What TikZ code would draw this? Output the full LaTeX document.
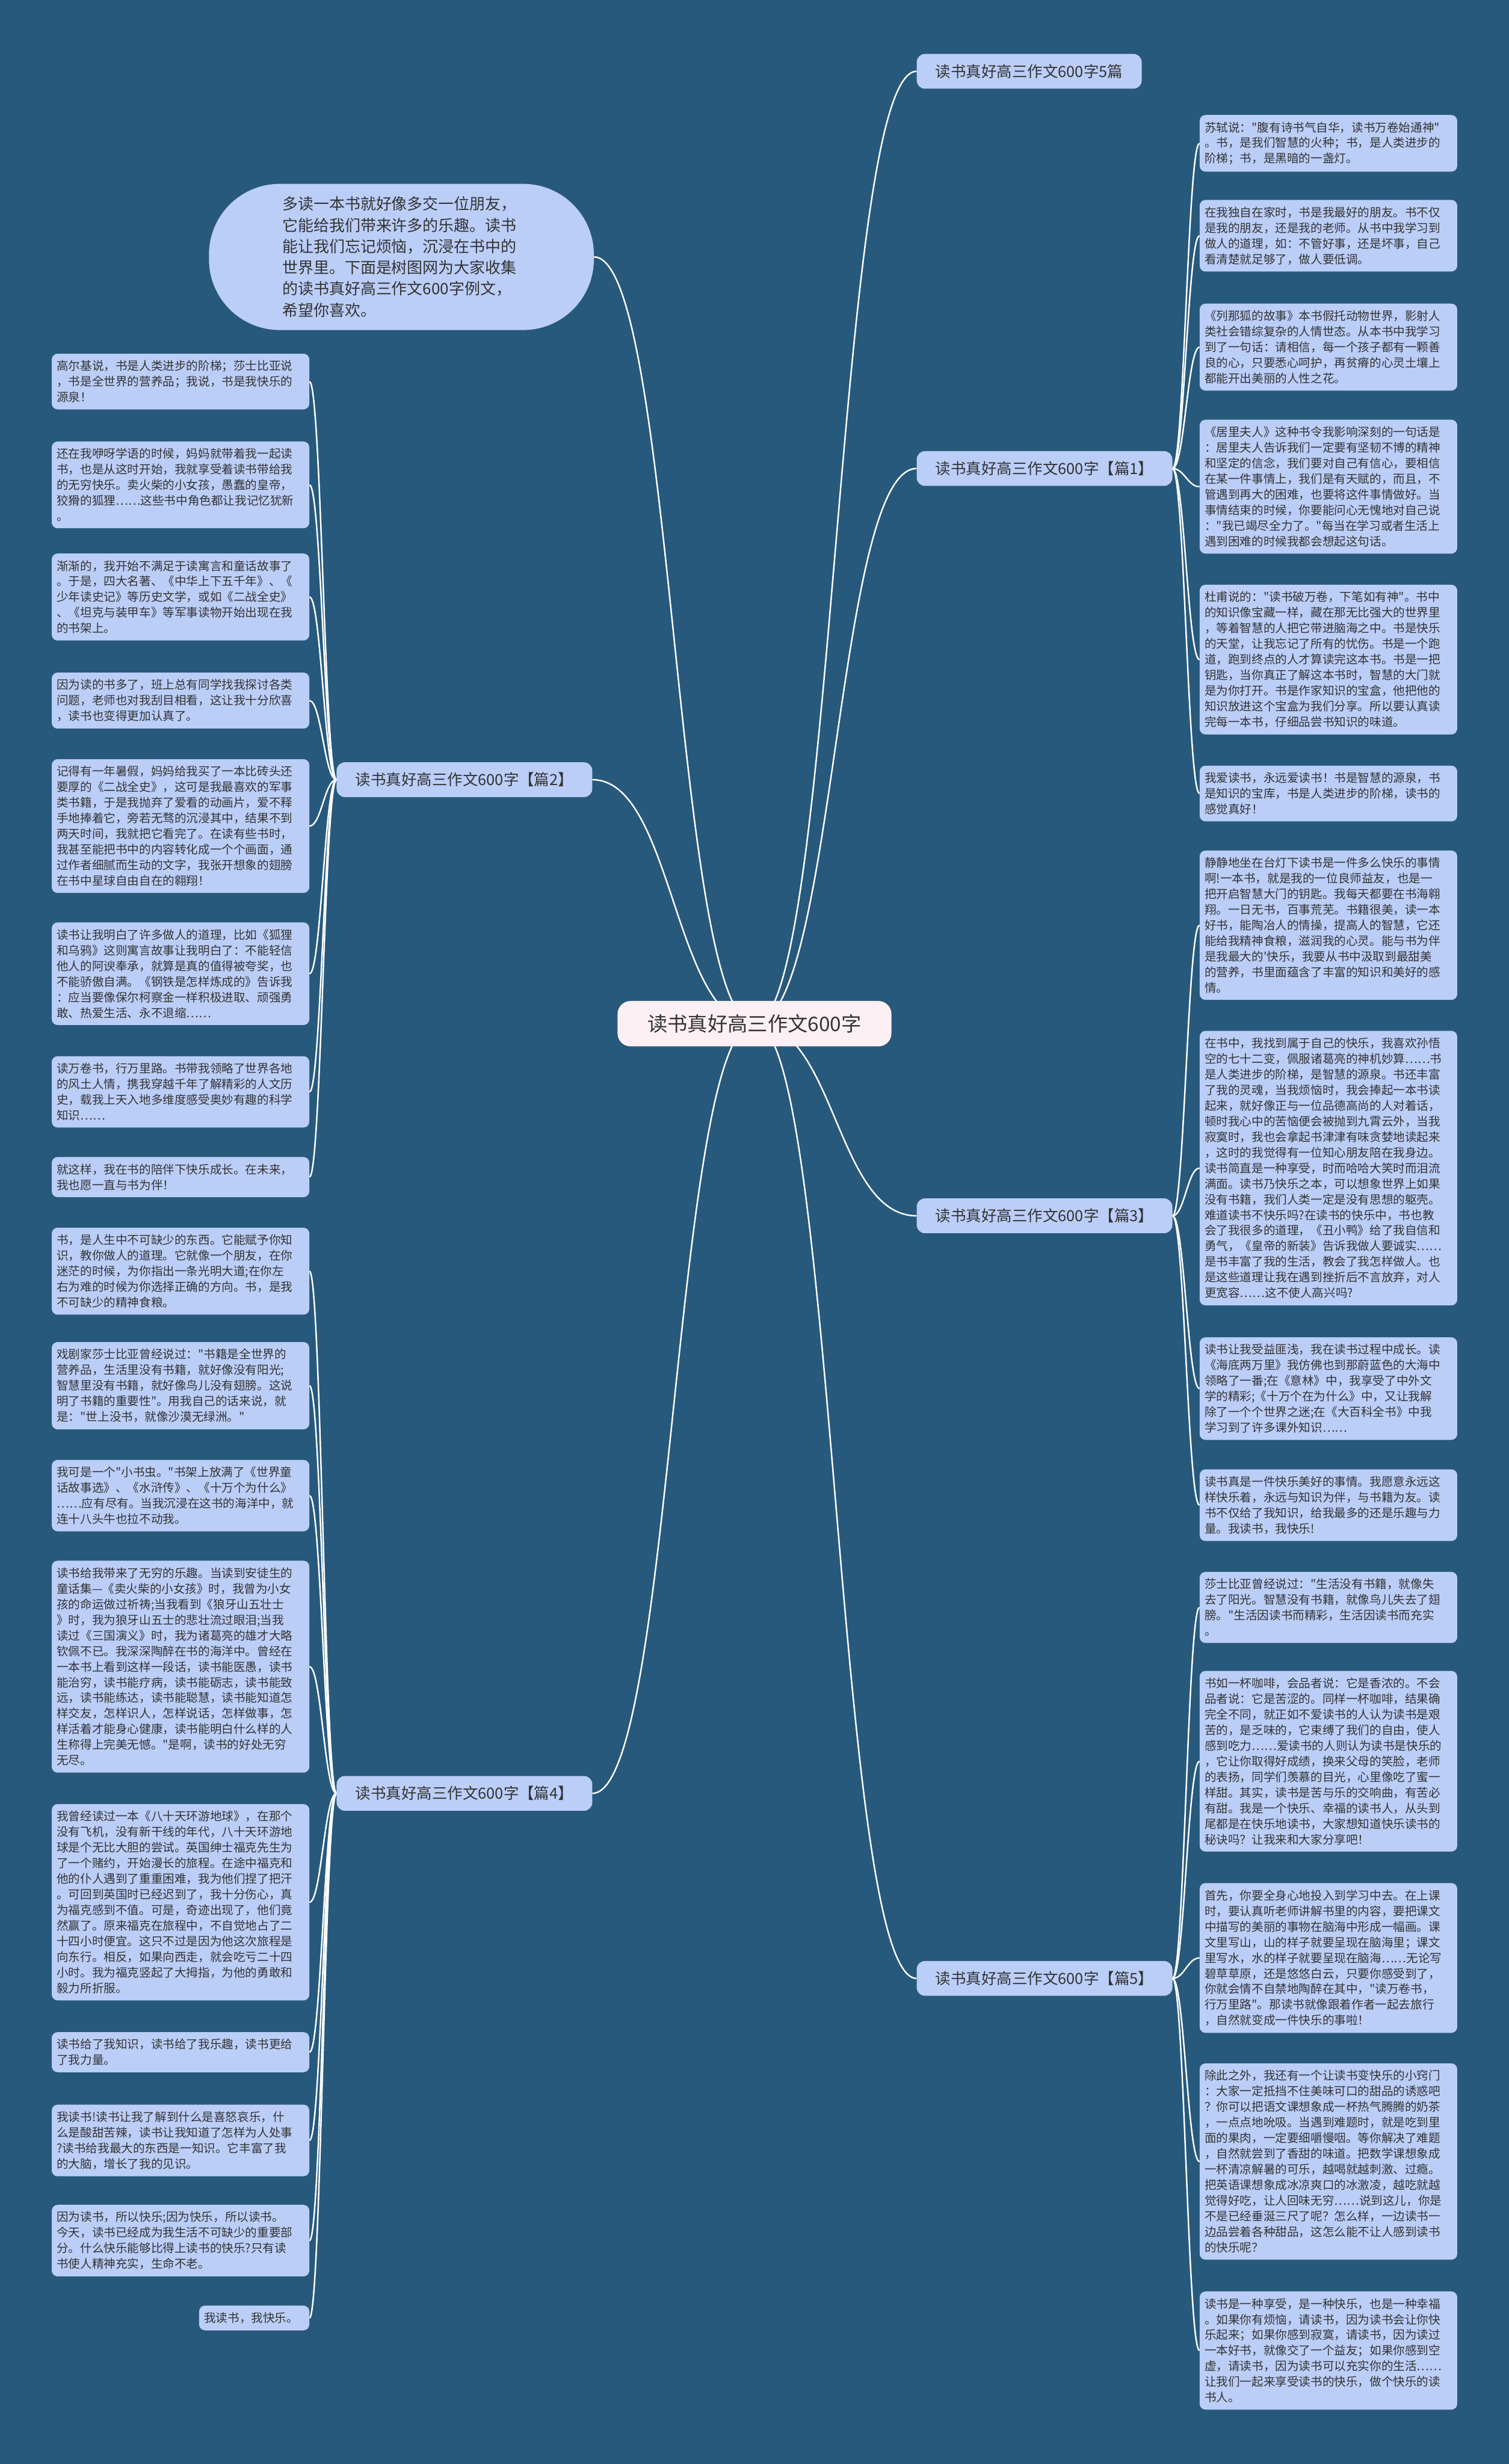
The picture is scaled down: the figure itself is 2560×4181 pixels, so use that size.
\documentclass[tikz,border=0pt]{standalone}
\usepackage{fontspec}
\usepackage{xcolor}
\usepackage{tikz}
\usetikzlibrary{backgrounds}
\newfontfamily\cjk{Noto Sans CJK SC}
\definecolor{bg}{HTML}{27597C}
\definecolor{leaffill}{HTML}{BBCEF8}
\definecolor{rootfill}{HTML}{FDF0F4}
\definecolor{ink}{HTML}{333333}
\tikzset{
  leaf/.style={fill=leaffill, rounded corners=10pt, text=ink,
    font=\cjk\fontsize{20}{26.5}\selectfont, text width=420pt, align=left,
    inner xsep=8.5pt, inner ysep=11.5pt},
  branch/.style={fill=leaffill, rounded corners=14pt, text=ink,
    font=\cjk\fontsize{26}{30}\selectfont, inner xsep=32pt, minimum height=59pt},
  root/.style={fill=rootfill, rounded corners=22pt, text=ink,
    font=\cjk\fontsize{34}{40}\selectfont, inner xsep=51pt, minimum height=77pt},
  intro/.style={fill=leaffill, rounded corners=120pt, text=ink,
    font=\cjk\fontsize{26.5}{36}\selectfont, text width=404pt, align=left,
    minimum width=653pt, minimum height=248pt},
  link/.style={draw=white, line width=2.5pt},
}
\begin{document}
\begin{tikzpicture}[x=1pt,y=-1pt]
\begin{scope}[on background layer]
\fill[bg] (0,0) rectangle (2560,4181);
\end{scope}
\useasboundingbox (0,0) rectangle (2560,4181);

% centre, intro and the branch nodes
\node[root] (root) at (1280,1737) {读书真好高三作文600字};
\node[intro] (intro) at (681,436) {多读一本书就好像多交一位朋友，\\它能给我们带来许多的乐趣。读书\\能让我们忘记烦恼，沉浸在书中的\\世界里。下面是树图网为大家收集\\的读书真好高三作文600字例文，\\希望你喜欢。};
\node[branch, anchor=west] (all5) at (1555,121) {读书真好高三作文600字5篇};
\node[branch, anchor=west] (p1) at (1555,795) {读书真好高三作文600字【篇1】};
\node[branch, anchor=east] (p2) at (1005,1323) {读书真好高三作文600字【篇2】};
\node[branch, anchor=west] (p3) at (1555,2063) {读书真好高三作文600字【篇3】};
\node[branch, anchor=east] (p4) at (1005,3043) {读书真好高三作文600字【篇4】};
\node[branch, anchor=west] (p5) at (1555,3357) {读书真好高三作文600字【篇5】};

% 篇1
\node[leaf, anchor=north west] (a1) at (2035,195) {苏轼说："腹有诗书气自华，读书万卷始通神"\\。书，是我们智慧的火种；书，是人类进步的\\阶梯；书，是黑暗的一盏灯。};
\node[leaf, anchor=north west] (a2) at (2035,339) {在我独自在家时，书是我最好的朋友。书不仅\\是我的朋友，还是我的老师。从书中我学习到\\做人的道理，如：不管好事，还是坏事，自己\\看清楚就足够了，做人要低调。};
\node[leaf, anchor=north west] (a3) at (2035,515) {《列那狐的故事》本书假托动物世界，影射人\\类社会错综复杂的人情世态。从本书中我学习\\到了一句话：请相信，每一个孩子都有一颗善\\良的心，只要悉心呵护，再贫瘠的心灵土壤上\\都能开出美丽的人性之花。};
\node[leaf, anchor=north west] (a4) at (2035,712) {《居里夫人》这种书令我影响深刻的一句话是\\：居里夫人告诉我们一定要有坚韧不博的精神\\和坚定的信念，我们要对自己有信心，要相信\\在某一件事情上，我们是有天赋的，而且，不\\管遇到再大的困难，也要将这件事情做好。当\\事情结束的时候，你要能问心无愧地对自己说\\："我已竭尽全力了。"每当在学习或者生活上\\遇到困难的时候我都会想起这句话。};
\node[leaf, anchor=north west] (a5) at (2035,992) {杜甫说的："读书破万卷，下笔如有神"。书中\\的知识像宝藏一样，藏在那无比强大的世界里\\，等着智慧的人把它带进脑海之中。书是快乐\\的天堂，让我忘记了所有的忧伤。书是一个跑\\道，跑到终点的人才算读完这本书。书是一把\\钥匙，当你真正了解这本书时，智慧的大门就\\是为你打开。书是作家知识的宝盒，他把他的\\知识放进这个宝盒为我们分享。所以要认真读\\完每一本书，仔细品尝书知识的味道。};
\node[leaf, anchor=north west] (a6) at (2035,1299) {我爱读书，永远爱读书！书是智慧的源泉，书\\是知识的宝库，书是人类进步的阶梯，读书的\\感觉真好！};

% 篇3
\node[leaf, anchor=north west] (c1) at (2035,1443) {静静地坐在台灯下读书是一件多么快乐的事情\\啊!一本书，就是我的一位良师益友，也是一\\把开启智慧大门的钥匙。我每天都要在书海翱\\翔。一日无书，百事荒芜。书籍很美，读一本\\好书，能陶冶人的情操，提高人的智慧，它还\\能给我精神食粮，滋润我的心灵。能与书为伴\\是我最大的'快乐，我要从书中汲取到最甜美\\的营养，书里面蕴含了丰富的知识和美好的感\\情。};
\node[leaf, anchor=north west] (c2) at (2035,1749) {在书中，我找到属于自己的快乐，我喜欢孙悟\\空的七十二变，佩服诸葛亮的神机妙算……书\\是人类进步的阶梯，是智慧的源泉。书还丰富\\了我的灵魂，当我烦恼时，我会捧起一本书读\\起来，就好像正与一位品德高尚的人对着话，\\顿时我心中的苦恼便会被抛到九霄云外，当我\\寂寞时，我也会拿起书津津有味贪婪地读起来\\，这时的我觉得有一位知心朋友陪在我身边。\\读书简直是一种享受，时而哈哈大笑时而泪流\\满面。读书乃快乐之本，可以想象世界上如果\\没有书籍，我们人类一定是没有思想的躯壳。\\难道读书不快乐吗?在读书的快乐中，书也教\\会了我很多的道理，《丑小鸭》给了我自信和\\勇气，《皇帝的新装》告诉我做人要诚实……\\是书丰富了我的生活，教会了我怎样做人。也\\是这些道理让我在遇到挫折后不言放弃，对人\\更宽容……这不使人高兴吗?};
\node[leaf, anchor=north west] (c3) at (2035,2269) {读书让我受益匪浅，我在读书过程中成长。读\\《海底两万里》我仿佛也到那蔚蓝色的大海中\\领略了一番;在《意林》中，我享受了中外文\\学的精彩;《十万个在为什么》中，又让我解\\除了一个个世界之迷;在《大百科全书》中我\\学习到了许多课外知识……};
\node[leaf, anchor=north west] (c4) at (2035,2493) {读书真是一件快乐美好的事情。我愿意永远这\\样快乐着，永远与知识为伴，与书籍为友。读\\书不仅给了我知识，给我最多的还是乐趣与力\\量。我读书，我快乐!};

% 篇5
\node[leaf, anchor=north west] (e1) at (2035,2667) {莎士比亚曾经说过："生活没有书籍，就像失\\去了阳光。智慧没有书籍，就像鸟儿失去了翅\\膀。"生活因读书而精彩，生活因读书而充实\\。};
\node[leaf, anchor=north west] (e2) at (2035,2835) {书如一杯咖啡，会品者说：它是香浓的。不会\\品者说：它是苦涩的。同样一杯咖啡，结果确\\完全不同，就正如不爱读书的人认为读书是艰\\苦的，是乏味的，它束缚了我们的自由，使人\\感到吃力……爱读书的人则认为读书是快乐的\\，它让你取得好成绩，换来父母的笑脸，老师\\的表扬，同学们羡慕的目光，心里像吃了蜜一\\样甜。其实，读书是苦与乐的交响曲，有苦必\\有甜。我是一个快乐、幸福的读书人，从头到\\尾都是在快乐地读书，大家想知道快乐读书的\\秘诀吗？让我来和大家分享吧！};
\node[leaf, anchor=north west] (e3) at (2035,3195) {首先，你要全身心地投入到学习中去。在上课\\时，要认真听老师讲解书里的内容，要把课文\\中描写的美丽的事物在脑海中形成一幅画。课\\文里写山，山的样子就要呈现在脑海里；课文\\里写水，水的样子就要呈现在脑海……无论写\\碧草草原，还是悠悠白云，只要你感受到了，\\你就会情不自禁地陶醉在其中，"读万卷书，\\行万里路"。那读书就像跟着作者一起去旅行\\，自然就变成一件快乐的事啦！};
\node[leaf, anchor=north west] (e4) at (2035,3501) {除此之外，我还有一个让读书变快乐的小窍门\\：大家一定抵挡不住美味可口的甜品的诱惑吧\\？你可以把语文课想象成一杯热气腾腾的奶茶\\，一点点地吮吸。当遇到难题时，就是吃到里\\面的果肉，一定要细嚼慢咽。等你解决了难题\\，自然就尝到了香甜的味道。把数学课想象成\\一杯清凉解暑的可乐，越喝就越刺激、过瘾。\\把英语课想象成冰凉爽口的冰激凌，越吃就越\\觉得好吃，让人回味无穷……说到这儿，你是\\不是已经垂涎三尺了呢？怎么样，一边读书一\\边品尝着各种甜品，这怎么能不让人感到读书\\的快乐呢？};
\node[leaf, anchor=north west] (e5) at (2035,3888) {读书是一种享受，是一种快乐，也是一种幸福\\。如果你有烦恼，请读书，因为读书会让你快\\乐起来；如果你感到寂寞，请读书，因为读过\\一本好书，就像交了一个益友；如果你感到空\\虚，请读书，因为读书可以充实你的生活……\\让我们一起来享受读书的快乐，做个快乐的读\\书人。};

% 篇2
\node[leaf, anchor=north east] (b1) at (525,600) {高尔基说，书是人类进步的阶梯；莎士比亚说\\，书是全世界的营养品；我说，书是我快乐的\\源泉！};
\node[leaf, anchor=north east] (b2) at (525,749) {还在我咿呀学语的时候，妈妈就带着我一起读\\书，也是从这时开始，我就享受着读书带给我\\的无穷快乐。卖火柴的小女孩，愚蠢的皇帝，\\狡猾的狐狸……这些书中角色都让我记忆犹新\\。};
\node[leaf, anchor=north east] (b3) at (525,939) {渐渐的，我开始不满足于读寓言和童话故事了\\。于是，四大名著、《中华上下五千年》、《\\少年读史记》等历史文学，或如《二战全史》\\、《坦克与装甲车》等军事读物开始出现在我\\的书架上。};
\node[leaf, anchor=north east] (b4) at (525,1141) {因为读的书多了，班上总有同学找我探讨各类\\问题，老师也对我刮目相看，这让我十分欣喜\\，读书也变得更加认真了。};
\node[leaf, anchor=north east] (b5) at (525,1288) {记得有一年暑假，妈妈给我买了一本比砖头还\\要厚的《二战全史》，这可是我最喜欢的军事\\类书籍，于是我抛弃了爱看的动画片，爱不释\\手地捧着它，旁若无骛的沉浸其中，结果不到\\两天时间，我就把它看完了。在读有些书时，\\我甚至能把书中的内容转化成一个个画面，通\\过作者细腻而生动的文字，我张开想象的翅膀\\在书中星球自由自在的翱翔！};
\node[leaf, anchor=north east] (b6) at (525,1565) {读书让我明白了许多做人的道理，比如《狐狸\\和乌鸦》这则寓言故事让我明白了：不能轻信\\他人的阿谀奉承，就算是真的值得被夸奖，也\\不能骄傲自满。《钢铁是怎样炼成的》告诉我\\：应当要像保尔柯察金一样积极进取、顽强勇\\敢、热爱生活、永不退缩……};
\node[leaf, anchor=north east] (b7) at (525,1792) {读万卷书，行万里路。书带我领略了世界各地\\的风土人情，携我穿越千年了解精彩的人文历\\史，载我上天入地多维度感受奥妙有趣的科学\\知识……};
\node[leaf, anchor=north east] (b8) at (525,1963) {就这样，我在书的陪伴下快乐成长。在未来，\\我也愿一直与书为伴！};

% 篇4
\node[leaf, anchor=north east] (d1) at (525,2083) {书，是人生中不可缺少的东西。它能赋予你知\\识，教你做人的道理。它就像一个朋友，在你\\迷茫的时候，为你指出一条光明大道;在你左\\右为难的时候为你选择正确的方向。书，是我\\不可缺少的精神食粮。};
\node[leaf, anchor=north east] (d2) at (525,2277) {戏剧家莎士比亚曾经说过："书籍是全世界的\\营养品，生活里没有书籍，就好像没有阳光;\\智慧里没有书籍，就好像鸟儿没有翅膀。这说\\明了书籍的重要性"。用我自己的话来说，就\\是："世上没书，就像沙漠无绿洲。"};
\node[leaf, anchor=north east] (d3) at (525,2477) {我可是一个"小书虫。"书架上放满了《世界童\\话故事选》、《水浒传》、《十万个为什么》\\……应有尽有。当我沉浸在这书的海洋中，就\\连十八头牛也拉不动我。};
\node[leaf, anchor=north east] (d4) at (525,2648) {读书给我带来了无穷的乐趣。当读到安徒生的\\童话集—《卖火柴的小女孩》时，我曾为小女\\孩的命运做过祈祷;当我看到《狼牙山五壮士\\》时，我为狼牙山五士的悲壮流过眼泪;当我\\读过《三国演义》时，我为诸葛亮的雄才大略\\钦佩不已。我深深陶醉在书的海洋中。曾经在\\一本书上看到这样一段话，读书能医愚，读书\\能治穷，读书能疗病，读书能砺志，读书能致\\远，读书能练达，读书能聪慧，读书能知道怎\\样交友，怎样识人，怎样说话，怎样做事，怎\\样活着才能身心健康，读书能明白什么样的人\\生称得上完美无憾。"是啊，读书的好处无穷\\无尽。};
\node[leaf, anchor=north east] (d5) at (525,3061) {我曾经读过一本《八十天环游地球》，在那个\\没有飞机，没有新干线的年代，八十天环游地\\球是个无比大胆的尝试。英国绅士福克先生为\\了一个赌约，开始漫长的旅程。在途中福克和\\他的仆人遇到了重重困难，我为他们捏了把汗\\。可回到英国时已经迟到了，我十分伤心，真\\为福克感到不值。可是，奇迹出现了，他们竟\\然赢了。原来福克在旅程中，不自觉地占了二\\十四小时便宜。这只不过是因为他这次旅程是\\向东行。相反，如果向西走，就会吃亏二十四\\小时。我为福克竖起了大拇指，为他的勇敢和\\毅力所折服。};
\node[leaf, anchor=north east] (d6) at (525,3448) {读书给了我知识，读书给了我乐趣，读书更给\\了我力量。};
\node[leaf, anchor=north east] (d7) at (525,3571) {我读书!读书让我了解到什么是喜怒哀乐，什\\么是酸甜苦辣，读书让我知道了怎样为人处事\\?读书给我最大的东西是一知识。它丰富了我\\的大脑，增长了我的见识。};
\node[leaf, anchor=north east] (d8) at (525,3741) {因为读书，所以快乐;因为快乐，所以读书。\\今天，读书已经成为我生活不可缺少的重要部\\分。什么快乐能够比得上读书的快乐?只有读\\书使人精神充实，生命不老。};
\node[leaf, anchor=north east, text width=170pt] (d9) at (525,3912) {我读书，我快乐。};

% connectors, kept under the nodes
\begin{scope}[on background layer]
\draw[link] (root.center) .. controls +(-136,0) and +(136,0) .. (intro.east);
\foreach \p in {all5,p1,p3,p5}
  \draw[link] (root.center) .. controls +(137,0) and +(-137,0) .. (\p.west);
\foreach \p in {p2,p4}
  \draw[link] (root.center) .. controls +(-137,0) and +(137,0) .. (\p.east);
\foreach \i in {1,...,6}
  \draw[link] (p1.east) .. controls +(20,0) and +(-20,0) .. (a\i.west);
\foreach \i in {1,...,4}
  \draw[link] (p3.east) .. controls +(20,0) and +(-20,0) .. (c\i.west);
\foreach \i in {1,...,5}
  \draw[link] (p5.east) .. controls +(20,0) and +(-20,0) .. (e\i.west);
\foreach \i in {1,...,8}
  \draw[link] (p2.west) .. controls +(-20,0) and +(20,0) .. (b\i.east);
\foreach \i in {1,...,9}
  \draw[link] (p4.west) .. controls +(-20,0) and +(20,0) .. (d\i.east);
\end{scope}
\end{tikzpicture}
\end{document}
